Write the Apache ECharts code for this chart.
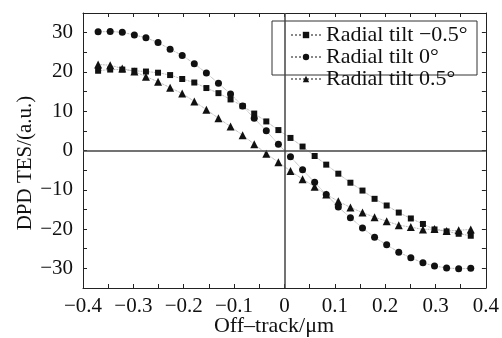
<!DOCTYPE html>
<html>
<head>
<meta charset="utf-8">
<script src="https://cdn.jsdelivr.net/npm/echarts@6/dist/echarts.min.js"></script>
<style>
html,body{margin:0;padding:0;background:#fff;}
#chart{width:502px;height:338px;}
</style>
</head>
<body>
<div id="chart"></div>
<script>
var offTrack = [-0.370, -0.346, -0.322, -0.298, -0.275, -0.251, -0.227, -0.203, -0.179, -0.155, -0.131, -0.107, -0.083, -0.060, -0.036, -0.012,
                0.012, 0.036, 0.060, 0.083, 0.107, 0.131, 0.155, 0.179, 0.203, 0.227, 0.251, 0.275, 0.298, 0.322, 0.346, 0.370];
var tiltNeg05 = [20.3, 20.6, 20.6, 20.3, 20.1, 19.8, 19.2, 18.2, 17.3, 15.9, 14.6, 13.0, 11.3, 9.4, 7.4, 5.2,
                 3.2, 1.0, -1.4, -3.6, -5.9, -8.2, -10.2, -12.3, -14.0, -15.8, -17.3, -18.7, -20.1, -20.6, -21.2, -21.7];
var tilt0 = [30.2, 30.3, 30.1, 29.4, 28.7, 27.5, 25.8, 24.2, 22.1, 19.7, 17.1, 14.4, 11.3, 8.2, 5.0, 1.6,
             -1.6, -4.9, -8.1, -11.2, -14.4, -17.1, -19.7, -22.1, -24.0, -25.9, -27.3, -28.6, -29.4, -29.9, -30.1, -30.0];
var tiltPos05 = [21.9, 21.7, 20.9, 20.1, 18.8, 17.5, 16.0, 14.5, 12.5, 10.4, 8.2, 6.1, 3.9, 1.6, -0.8, -3.0,
                 -5.2, -7.3, -9.2, -11.2, -12.9, -14.5, -15.8, -17.0, -18.0, -19.0, -19.5, -20.1, -20.0, -20.5, -20.3, -20.1];
var seriesNames = ['Radial tilt \u22120.5\u00b0', 'Radial tilt 0\u00b0', 'Radial tilt 0.5\u00b0'];
var xTickLabels = ['\u22120.4', '\u22120.3', '\u22120.2', '\u22120.1', '0', '0.1', '0.2', '0.3', '0.4'];
var yTickLabels = ['\u221230', '\u221220', '\u221210', '0', '10', '20', '30'];
var xTitle = 'Off\u2013track/\u03bcm';
var yTitle = 'DPD TES/(a.u.)';

var FONT = '"Liberation Serif", "DejaVu Serif", serif';
function pairs(ys){ return offTrack.map(function(x,i){ return [x, ys[i]]; }); }
function xFmt(v){
  var k = Math.round(v*10);
  if (Math.abs(k - v*10) > 1e-6) return '';
  return xTickLabels[k + 4] || '';
}
function yFmt(v){
  var k = Math.round(v/10);
  if (Math.abs(k*10 - v) > 1e-6) return '';
  return yTickLabels[k + 3] || '';
}
var axisLineStyle = {color:'#222', width:1};
var tickStyle = {show:true, inside:true, length:4, lineStyle:{color:'#222', width:1}};
var lineStyle = {color:'#888', width:0.8, type:'dotted'};

var chart = echarts.init(document.getElementById('chart'), null, {renderer:'canvas'});
chart.setOption({
  animation:false,
  backgroundColor:'#fff',
  grid:{left:83, right:13, top:13, bottom:50, containLabel:false},
  xAxis:[{
    type:'value', min:-0.4, max:0.4, interval:0.05, position:'bottom',
    axisLine:{show:true, onZero:false, lineStyle:axisLineStyle},
    axisTick:tickStyle,
    splitLine:{show:false},
    axisLabel:{formatter:xFmt, color:'#111', fontSize:21, fontFamily:FONT, margin:8}
  },{
    type:'value', min:-0.4, max:0.4, interval:0.05, position:'top',
    axisLine:{show:true, onZero:false, lineStyle:axisLineStyle},
    axisTick:tickStyle, axisLabel:{show:false}, splitLine:{show:false}
  }],
  yAxis:[{
    type:'value', min:-35, max:35, interval:5, position:'left',
    axisLine:{show:true, onZero:false, lineStyle:axisLineStyle},
    axisTick:tickStyle,
    splitLine:{show:false},
    axisLabel:{formatter:yFmt, color:'#111', fontSize:21, fontFamily:FONT, margin:10}
  },{
    type:'value', min:-35, max:35, interval:5, position:'right',
    axisLine:{show:true, onZero:false, lineStyle:axisLineStyle},
    axisTick:tickStyle, axisLabel:{show:false}, splitLine:{show:false}
  }],
  legend:{
    orient:'vertical', left:290, top:24, padding:0, itemGap:0,
    itemWidth:30, itemHeight:8,
    textStyle:{fontSize:22, fontFamily:FONT, color:'#111', lineHeight:15.7},
    data:seriesNames
  },
  graphic:[
    {type:'rect', z:-1, shape:{x:272, y:21, width:205, height:54}, style:{fill:'#fff', stroke:'#333', lineWidth:1}},
    {type:'text', x:274, y:326, style:{text:xTitle, fontSize:22, fontFamily:FONT, fill:'#111', textAlign:'center', textVerticalAlign:'middle'}},
    {type:'text', x:25, y:163, rotation:Math.PI/2, style:{text:yTitle, fontSize:21, fontFamily:FONT, fill:'#111', textAlign:'center', textVerticalAlign:'middle'}}
  ],
  series:[
    {name:seriesNames[0], type:'line', data:pairs(tiltNeg05), symbol:'rect', symbolSize:6,
     itemStyle:{color:'#111'}, lineStyle:lineStyle,
     markLine:{silent:true, symbol:'none', label:{show:false},
       lineStyle:{color:'#444', width:1.5, type:'solid'},
       data:[{xAxis:0},{yAxis:0}]}},
    {name:seriesNames[1], type:'line', data:pairs(tilt0), symbol:'circle', symbolSize:7,
     itemStyle:{color:'#111'}, lineStyle:lineStyle},
    {name:seriesNames[2], type:'line', data:pairs(tiltPos05), symbol:'triangle', symbolSize:8,
     itemStyle:{color:'#111'}, lineStyle:lineStyle}
  ]
});
</script>
</body>
</html>
